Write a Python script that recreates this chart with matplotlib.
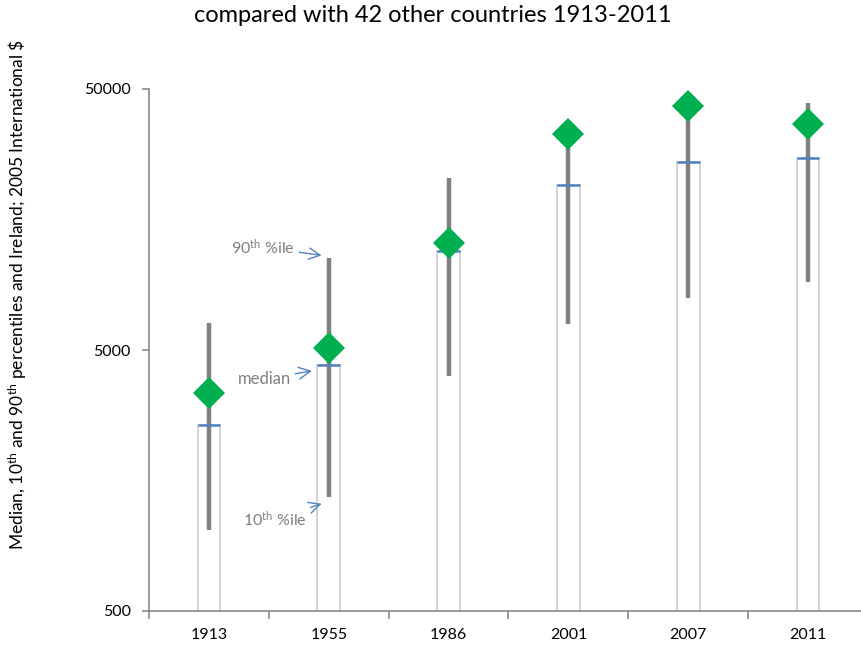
import matplotlib
matplotlib.use("Agg")
import matplotlib.pyplot as plt
import numpy as np

plt.rcParams["font.family"] = ["Lato", "DejaVu Sans"]
plt.rcParams["mathtext.fontset"] = "custom"
plt.rcParams["mathtext.rm"] = "Lato"
plt.rcParams["mathtext.it"] = "Lato"
plt.rcParams["mathtext.bf"] = "Lato"

# GDP per capita, 42 countries, 2005 international $
years = ["1913", "1955", "1986", "2001", "2007", "2011"]
p10 = [1020, 1370, 3980, 6270, 7890, 9130]
median = [2590, 4380, 12000, 21450, 26340, 27130]
p90 = [6360, 11290, 22860, 31000, 40000, 44300]
ireland = [3410, 5100, 12800, 33500, 43000, 36600]

YMIN, YMAX = 500, 50000
GREY = "#808080"
BLUE = "#4f81bd"

fig = plt.figure(figsize=(8.61, 6.48), dpi=100)
ax = fig.add_axes([149 / 861, 37 / 648, (868 - 149) / 861, (611 - 89) / 648])
ax.set_yscale("log")
ax.set_ylim(YMIN, YMAX)
ax.set_xlim(-0.5, len(years) - 0.5)

x = np.arange(len(years))
width = 0.19
ax.bar(x, np.array(median) - YMIN, bottom=YMIN, width=width,
       facecolor="white", edgecolor="#cccccc", linewidth=1.2, zorder=1)
ax.vlines(x, p10, p90, color=GREY, linewidth=3.2, zorder=2)
ax.hlines(median, x - width / 2, x + width / 2, color=BLUE, linewidth=1.8, zorder=3)
ax.plot(x, ireland, linestyle="none", marker="D", markersize=16.5,
        color="#00b050", markeredgewidth=0, zorder=4)

# labels on the 1955 column
arrow = dict(arrowstyle="->,head_length=0.7,head_width=0.35", color=BLUE,
             linewidth=1.0, shrinkA=1, shrinkB=0)
ax.annotate("90$^{\\mathrm{th}}$ %ile", xy=(x[1] - 0.06, p90[1] * 1.02),
            xytext=(-19, 6), textcoords="offset points", ha="right", va="center",
            fontsize=11.5, color=GREY, arrowprops=arrow)
ax.annotate("median", xy=(x[1] - 0.14, median[1] * 0.95),
            xytext=(-15, -6), textcoords="offset points", ha="right", va="center",
            fontsize=12, color=GREY, arrowprops=arrow)
ax.annotate("10$^{\\mathrm{th}}$ %ile", xy=(x[1] - 0.06, p10[1] * 0.94),
            xytext=(-11, -11), textcoords="offset points", ha="right", va="center",
            fontsize=11.5, color=GREY, arrowprops=arrow)

for side in ("top", "right"):
    ax.spines[side].set_visible(False)
for side in ("left", "bottom"):
    ax.spines[side].set_color(GREY)
    ax.spines[side].set_linewidth(1.1)

ax.set_yticks([500, 5000, 50000])
ax.set_yticklabels(["500", "5000", "50000"])
ax.yaxis.set_minor_locator(matplotlib.ticker.NullLocator())
ax.tick_params(axis="y", which="major", length=5, color=GREY, width=1.1,
               labelsize=11.5, pad=8)

ax.set_xticks(np.arange(-0.5, len(years)), minor=False)
ax.set_xticklabels([])
ax.tick_params(axis="x", which="major", length=6, color=GREY, width=1.1)
ax.set_xticks(x, minor=True)
ax.set_xticklabels(years, minor=True)
ax.tick_params(axis="x", which="minor", length=0, labelsize=11.5, pad=12)

fig.text(18 / 861, 1 - 295 / 648,
         "Median, 10$^{\\mathrm{th}}$ and 90$^{\\mathrm{th}}$ percentiles and Ireland; 2005 International \\$",
         rotation=90, ha="center", va="center", fontsize=12.5)
fig.text(433 / 861, 1 - 15 / 648, "compared with 42 other countries 1913-2011",
         ha="center", va="center", fontsize=17)

fig.savefig("out.png", dpi=100)
